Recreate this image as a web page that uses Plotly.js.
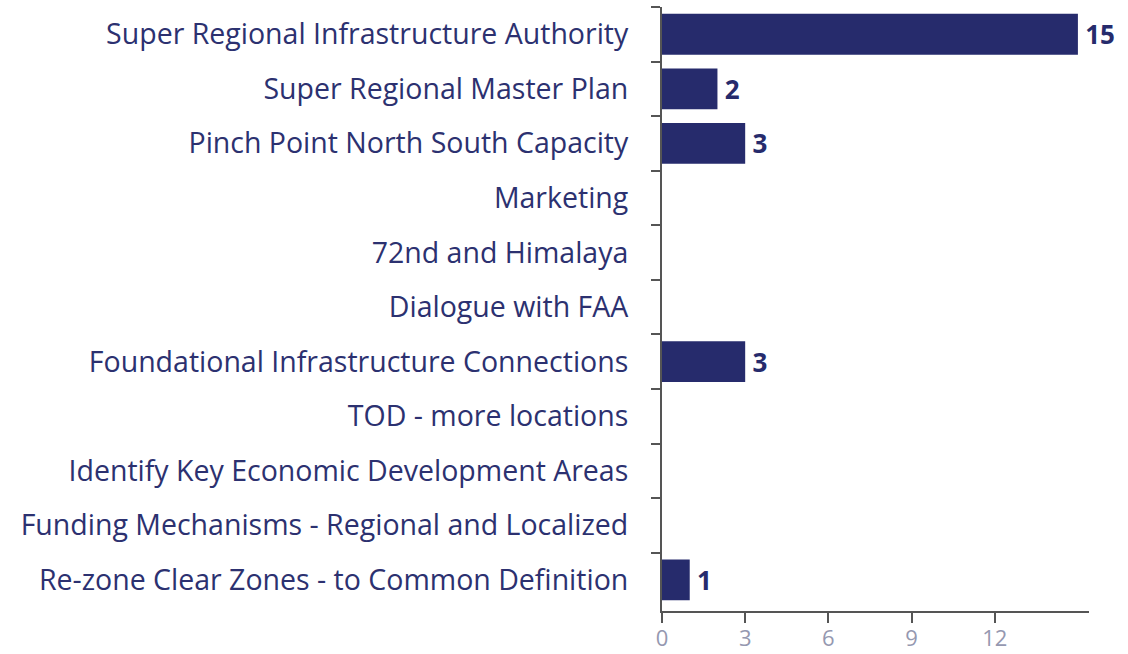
<!DOCTYPE html>
<html>
<head>
<meta charset="utf-8">
<script src="https://cdn.plot.ly/plotly-3.0.1.min.js"></script>
<style>html,body{margin:0;padding:0;background:#fff;}#chart{width:1128px;height:654px;}</style>
</head>
<body>
<div id="chart"></div>
<script>
const categories = [
  "Super Regional Infrastructure Authority",
  "Super Regional Master Plan",
  "Pinch Point North South Capacity",
  "Marketing",
  "72nd and Himalaya",
  "Dialogue with FAA",
  "Foundational Infrastructure Connections",
  "TOD - more locations",
  "Identify Key Economic Development Areas",
  "Funding Mechanisms - Regional and Localized",
  "Re-zone Clear Zones - to Common Definition"
];
const values = [15, 2, 3, 0, 0, 0, 3, 0, 0, 0, 1];
const xTicks = [0, 3, 6, 9, 12];

const navy = "#262b6c";
const trace = {
  type: "bar",
  orientation: "h",
  x: values,
  y: categories,
  width: 0.75,
  marker: {color: navy},
  text: values.map(v => v ? "\u2009" + v : ""),
  textposition: "outside",
  cliponaxis: false,
  textfont: {family: "Open Sans", size: 26, color: navy, weight: 700},
  hoverinfo: "none"
};
const layout = {
  width: 1128, height: 654,
  margin: {l: 662, r: 39, t: 7, b: 43},
  paper_bgcolor: "#fff", plot_bgcolor: "#fff",
  showlegend: false,
  font: {family: "Open Sans", color: "#2c3170"},
  xaxis: {
    range: [0, 15.4],
    tickvals: xTicks,
    ticktext: xTicks.map(String),
    ticks: "outside", ticklen: 10, tickwidth: 2, tickcolor: "#555",
    showline: true, linecolor: "#555", linewidth: 2,
    showgrid: false, zeroline: false,
    ticklabelstandoff: -3,
    tickfont: {family: "Open Sans", size: 22, color: "#9598b0"}
  },
  yaxis: {
    type: "category",
    range: [10.57, -0.5],
    tickson: "boundaries",
    ticks: "outside", ticklen: 9, tickwidth: 2, tickcolor: "#555",
    showline: true, linecolor: "#555", linewidth: 2,
    showgrid: false, zeroline: false,
    ticklabelstandoff: 26,
    tickfont: {family: "Open Sans", size: 28.5, color: "#2c3170"}
  }
};
Plotly.newPlot("chart", [trace], layout, {displayModeBar: false, staticPlot: true});
</script>
</body>
</html>
